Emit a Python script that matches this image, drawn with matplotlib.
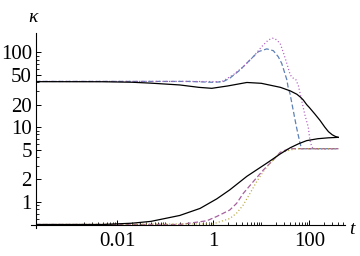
import matplotlib
matplotlib.use("Agg")
import matplotlib.pyplot as plt
from matplotlib.ticker import FixedLocator, NullFormatter, FixedFormatter
from matplotlib.lines import Line2D

plt.rcParams['lines.scale_dashes'] = False
SERIF = ['Liberation Serif', 'DejaVu Serif']

# ---- data ----
upper_solid_t = [2e-4, 0.005, 0.02, 0.05, 0.2, 0.5, 0.93, 2.0, 5.0, 10, 25, 40, 55, 66, 75, 88, 100, 130, 167, 210, 250, 300, 350, 400]
upper_solid_k = [40.5, 40.4, 39.8, 38.7, 36.6, 34.0, 33.0, 35.5, 39.5, 38.5, 34.0, 30.5, 27.5, 25.0, 23.0, 20.0, 18.3, 15.0, 12.3, 10.0, 8.7, 7.9, 7.5, 7.3]

upper_dashed_t = [2e-4, 0.3, 1.0, 1.6, 2.2, 3.6, 5.8, 8.7, 13, 17.8, 22.6, 26.6, 31, 34, 36.5, 39.6, 46, 54, 64, 69, 400]
upper_dashed_k = [40.8, 40.8, 39.7, 40.5, 45, 58, 79, 102, 111, 105, 87, 71, 52, 43, 33, 28, 17, 10, 6.1, 5.15, 5.15]

upper_dotted_t = [2e-4, 0.3, 1.5, 2.6, 4.2, 6.8, 10.2, 14, 17, 19.3, 24.6, 28.7, 34, 40, 45, 52, 59, 69, 81, 95, 103, 112, 120, 400]
upper_dotted_k = [40.8, 40.8, 40.5, 50, 64, 87, 119, 146, 154, 152, 132, 100, 71, 50, 45.5, 43.5, 36, 23, 14.5, 10, 6.7, 5.5, 5.15, 5.15]

lower_solid_t = [2e-4, 0.005, 0.02, 0.05, 0.2, 0.53, 1.18, 2.2, 5, 13, 25, 40, 60, 88, 150, 250, 400]
lower_solid_k = [0.5, 0.5, 0.52, 0.55, 0.66, 0.82, 1.1, 1.45, 2.2, 3.3, 4.4, 5.3, 6.0, 6.6, 7.0, 7.2, 7.3]

lower_dashed_t = [2e-4, 0.2, 0.73, 1.18, 2.2, 3.07, 4.2, 6.8, 11, 17.8, 24.6, 35, 45, 400]
lower_dashed_k = [0.5, 0.5, 0.56, 0.64, 0.78, 0.96, 1.3, 1.87, 2.67, 3.64, 4.6, 5.05, 5.15, 5.15]

lower_dotted_t = [2e-4, 1.0, 2.2, 3.07, 4.2, 5.8, 8, 11, 15, 24.6, 40, 55, 400]
lower_dotted_k = [0.5, 0.51, 0.6, 0.71, 0.91, 1.3, 1.87, 2.55, 3.3, 4.5, 4.95, 5.15, 5.15]

x_major = [0.01, 1, 100]
x_major_labels = ['0.01', '1', '100']
y_major = [1, 2, 5, 10, 20, 50, 100]
y_major_labels = ['1', '2', '5', '10', '20', '50', '100']

# ---- figure ----
fig = plt.figure(figsize=(3.6, 2.56), dpi=100)
ax = fig.add_axes([0.1, 0.1223, 0.8583, 0.7488])
ax.set_xscale('log')
ax.set_yscale('log')
ax.set_xlim(2.03e-4, 553)
ax.set_ylim(0.497, 181)

c_blue = '#5E81B5'
c_purple = '#B060C0'
c_pink = '#A5609D'
c_olive = '#B8A840'

ax.plot(upper_dashed_t, upper_dashed_k, color=c_blue, lw=0.9, dashes=(3.6, 1.8))
ax.plot(upper_dotted_t, upper_dotted_k, color=c_purple, lw=0.9, dashes=(0.8, 1.6))
ax.plot(lower_dashed_t, lower_dashed_k, color=c_pink, lw=0.9, dashes=(3.6, 1.8))
ax.plot(lower_dotted_t, lower_dotted_k, color=c_olive, lw=0.9, dashes=(0.8, 1.6))
ax.plot(upper_solid_t, upper_solid_k, color='black', lw=0.9)
ax.plot(lower_solid_t, lower_solid_k, color='black', lw=0.9)

# axes in Mathematica style
for s in ax.spines.values():
    s.set_visible(False)
ax.add_line(Line2D([-0.016, 1.0], [0, 0], transform=ax.transAxes, color='black', lw=0.8, clip_on=False))
ax.add_line(Line2D([0, 0], [-0.017, 1.0], transform=ax.transAxes, color='black', lw=0.8, clip_on=False))

# ticks
x_minor = []
for dec in [1e-3, 1e-2, 1e-1, 1, 10, 100]:
    for m in range(1, 10):
        v = dec * m
        if 0.002 <= v <= 553 and v not in x_major:
            x_minor.append(v)
ax.xaxis.set_major_locator(FixedLocator(x_major))
ax.xaxis.set_major_formatter(FixedFormatter(x_major_labels))
ax.xaxis.set_minor_locator(FixedLocator(x_minor))
ax.xaxis.set_minor_formatter(NullFormatter())

y_minor = []
for dec in [0.1, 1, 10, 100]:
    for m in range(1, 10):
        v = round(dec * m, 6)
        if 0.5 <= v <= 181 and v not in y_major:
            y_minor.append(v)
ax.yaxis.set_major_locator(FixedLocator(y_major))
ax.yaxis.set_major_formatter(FixedFormatter(y_major_labels))
ax.yaxis.set_minor_locator(FixedLocator(y_minor))
ax.yaxis.set_minor_formatter(NullFormatter())

ax.tick_params(axis='both', which='major', direction='in', length=3.8, width=0.7, labelsize=15)
ax.tick_params(axis='both', which='minor', direction='in', length=2.0, width=0.6)
ax.tick_params(axis='x', which='major', pad=5.5)
ax.tick_params(axis='y', which='major', pad=3)
for lab in ax.get_xticklabels() + ax.get_yticklabels():
    lab.set_family(SERIF)

fig.text(33 / 360, 1 - 18 / 256, 'κ', family=SERIF, style='italic', fontsize=14, ha='center', va='center')
fig.text(352 / 360, 1 - 229 / 256, 't', family=SERIF, style='italic', fontsize=14, ha='center', va='center')

fig.savefig('out.png', dpi=100)
